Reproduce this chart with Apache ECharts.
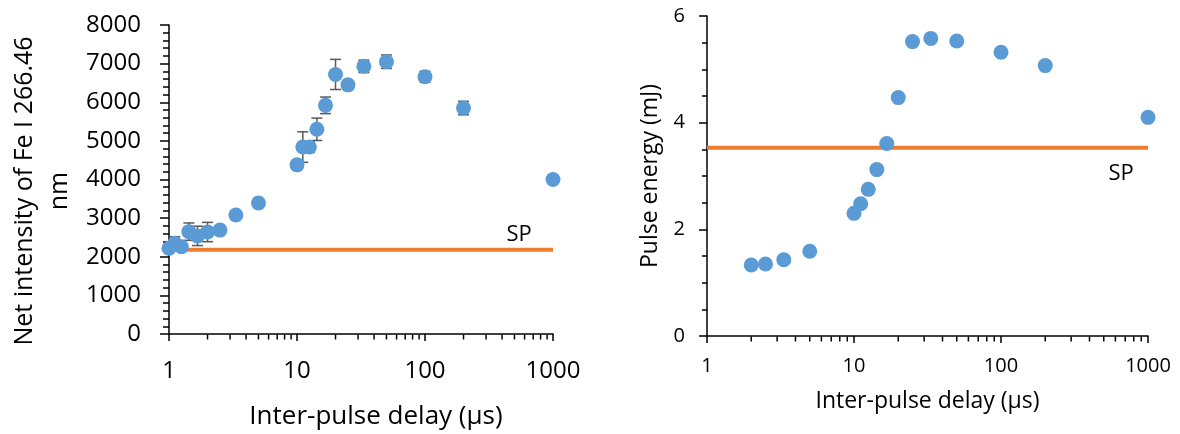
<!DOCTYPE html>
<html>
<head>
<meta charset="utf-8">
<script src="https://cdn.jsdelivr.net/npm/echarts@6/dist/echarts.min.js"></script>
<style>
  html, body { margin: 0; padding: 0; background: #fff; }
  #chart { width: 1180px; height: 434px; }
</style>
</head>
<body>
<div id="chart"></div>
<script>
// left panel: net intensity vs delay
const delayLeft = [1, 1.11, 1.25, 1.43, 1.67, 2, 2.5, 3.33, 5, 10, 11.1, 12.5, 14.3, 16.7, 20, 25, 33.3, 50, 100, 200, 1000];
const intensity = [2220, 2350, 2260, 2650, 2540, 2640, 2690, 3080, 3390, 4380, 4840, 4840, 5300, 5920, 6720, 6450, 6930, 7050, 6660, 5850, 4000];
const intensityErr = [60, 170, 80, 225, 250, 250, 80, 80, 80, 100, 395, 140, 290, 215, 390, 100, 160, 175, 140, 175, 50];
const spIntensity = 2180;

// right panel: pulse energy vs delay
const delayRight = [2, 2.5, 3.33, 5, 10, 11.1, 12.5, 14.3, 16.7, 20, 25, 33.3, 50, 100, 200, 1000];
const energy = [1.33, 1.35, 1.43, 1.59, 2.30, 2.48, 2.75, 3.12, 3.61, 4.47, 5.52, 5.58, 5.53, 5.32, 5.07, 4.10];
const spEnergy = 3.53;

// x axis range and minor ticks (log)
const xRange = [1, 1000];
const xMinorTicks = [2, 3, 4, 5, 6, 7, 8, 9, 20, 30, 40, 50, 60, 70, 80, 90, 200, 300, 400, 500, 600, 700, 800, 900];

// where the "SP" labels sit
const spLabelLeft = [543, spIntensity];
const spLabelRight = [656, spEnergy];

const FONT = 'Open Sans';
const BLUE = '#5B9BD5';
const ORANGE = '#ED7D31';

const chart = echarts.init(document.getElementById('chart'));

const plain = v => String(Math.round(v * 100) / 100);

const xAxisBase = (gridIndex, fontSize, labelMargin, nameSize, nameGap, namePad) => ({
  type: 'log',
  logBase: 10,
  gridIndex,
  min: xRange[0],
  max: xRange[1],
  name: 'Inter-pulse delay (µs)',
  nameLocation: 'middle',
  nameGap,
  nameTextStyle: { fontFamily: FONT, fontSize: nameSize, color: '#000', padding: namePad },
  axisLine: { lineStyle: { color: '#000', width: 1.5 } },
  axisTick: { length: 7, lineStyle: { color: '#000', width: 1.5 } },
  axisLabel: { fontFamily: FONT, fontSize, color: '#000', margin: labelMargin, showMinLabel: true, showMaxLabel: true, formatter: plain },
  splitLine: { show: false },
  minorTick: { show: false }
});

const minorTickSeries = (idx) => ({
  type: 'scatter',
  xAxisIndex: idx,
  yAxisIndex: idx,
  data: xMinorTicks.map(v => [v, 0]),
  symbol: 'rect',
  symbolSize: [1.5, 5],
  symbolOffset: [0, 3],
  itemStyle: { color: '#000', opacity: 1 },
  clip: false,
  silent: true,
  z: 1
});

const spLabelSeries = (idx, point, position, distance) => ({
  type: 'scatter',
  xAxisIndex: idx,
  yAxisIndex: idx,
  data: [point],
  symbolSize: 0,
  itemStyle: { opacity: 1 },
  label: { show: true, formatter: 'SP', position, distance, fontFamily: FONT, fontSize: 22, color: '#000', opacity: 1 },
  silent: true,
  z: 5
});

const option = {
  animation: false,
  grid: [
    { left: 169, top: 25, width: 384, height: 309, outerBoundsMode: 'none' },
    { left: 707, top: 16, width: 441, height: 320, outerBoundsMode: 'none' }
  ],
  xAxis: [
    xAxisBase(0, 24, 25, 26, 70, [0, 0, 0, 30]),
    xAxisBase(1, 20, 20, 23, 54, 0)
  ],
  yAxis: [
    {
      type: 'value',
      gridIndex: 0,
      min: 0,
      max: 8000,
      interval: 1000,
      name: 'Net intensity of Fe I 266.46\nnm',
      nameLocation: 'middle',
      nameGap: 92,
      nameTextStyle: { fontFamily: FONT, fontSize: 25, color: '#000', lineHeight: 35, padding: [0, 23, 0, 0] },
      axisLine: { show: true, lineStyle: { color: '#000', width: 1.5 } },
      axisTick: { show: true, length: 9, lineStyle: { color: '#000', width: 1.5 } },
      minorTick: { show: true, splitNumber: 5, length: 6, lineStyle: { color: '#000', width: 1.5 } },
      axisLabel: { fontFamily: FONT, fontSize: 24, color: '#000', margin: 28, formatter: plain },
      splitLine: { show: false }
    },
    {
      type: 'value',
      gridIndex: 1,
      min: 0,
      max: 6,
      interval: 2,
      name: 'Pulse energy (mJ)',
      nameLocation: 'middle',
      nameGap: 45,
      nameTextStyle: { fontFamily: FONT, fontSize: 23, color: '#000' },
      axisLine: { show: true, lineStyle: { color: '#000', width: 1.5 } },
      axisTick: { show: true, length: 8, lineStyle: { color: '#000', width: 1.5 } },
      minorTick: { show: true, splitNumber: 4, length: 5, lineStyle: { color: '#000', width: 1.5 } },
      axisLabel: { fontFamily: FONT, fontSize: 20, color: '#000', margin: 22, formatter: plain },
      splitLine: { show: false }
    }
  ],
  series: [
    // SP reference lines
    {
      type: 'line',
      xAxisIndex: 0,
      yAxisIndex: 0,
      data: [[xRange[0], spIntensity], [xRange[1], spIntensity]],
      symbol: 'none',
      lineStyle: { color: ORANGE, width: 4 },
      z: 2
    },
    {
      type: 'line',
      xAxisIndex: 1,
      yAxisIndex: 1,
      data: [[xRange[0], spEnergy], [xRange[1], spEnergy]],
      symbol: 'none',
      lineStyle: { color: ORANGE, width: 4 },
      z: 2
    },
    // error bars
    {
      type: 'custom',
      xAxisIndex: 0,
      yAxisIndex: 0,
      data: delayLeft.map((d, i) => [d, intensity[i], intensityErr[i]]),
      encode: { x: 0, y: 1 },
      z: 3,
      renderItem: (params, api) => {
        const x = api.value(0), y = api.value(1), e = api.value(2);
        const top = api.coord([x, y + e]);
        const bot = api.coord([x, y - e]);
        const half = 5.5;
        const style = { stroke: '#595959', lineWidth: 1.5 };
        return {
          type: 'group',
          children: [
            { type: 'line', shape: { x1: top[0], y1: top[1], x2: bot[0], y2: bot[1] }, style },
            { type: 'line', shape: { x1: top[0] - half, y1: top[1], x2: top[0] + half, y2: top[1] }, style },
            { type: 'line', shape: { x1: bot[0] - half, y1: bot[1], x2: bot[0] + half, y2: bot[1] }, style }
          ]
        };
      }
    },
    // points
    {
      type: 'scatter',
      xAxisIndex: 0,
      yAxisIndex: 0,
      data: delayLeft.map((d, i) => [d, intensity[i]]),
      symbolSize: 15,
      itemStyle: { color: BLUE, opacity: 1 },
      z: 4
    },
    {
      type: 'scatter',
      xAxisIndex: 1,
      yAxisIndex: 1,
      data: delayRight.map((d, i) => [d, energy[i]]),
      symbolSize: 15,
      itemStyle: { color: BLUE, opacity: 1 },
      z: 4
    },
    // SP labels
    spLabelSeries(0, spLabelLeft, 'top', 4),
    spLabelSeries(1, spLabelRight, 'bottom', 15),
    minorTickSeries(0),
    minorTickSeries(1)
  ]
};

chart.setOption(option);
</script>
</body>
</html>
